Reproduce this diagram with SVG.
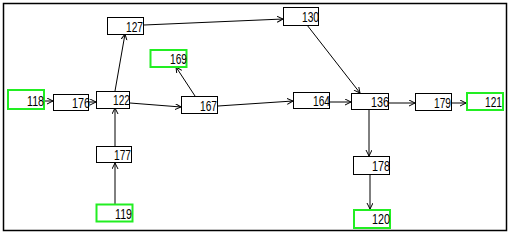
<svg xmlns="http://www.w3.org/2000/svg" width="513" height="235" viewBox="0 0 513 235">
<style>
.n rect{fill:#fff;stroke:#000;stroke-width:1}
.g rect{stroke:#22ee22;stroke-width:2}
.n text{font-family:"Liberation Sans",Arial,sans-serif;font-size:15px;text-anchor:end;fill:#000}
#edges line{stroke:#000;stroke-width:1;marker-end:url(#a)}
</style>
<defs>
<marker id="a" markerWidth="8" markerHeight="8" refX="6" refY="3" orient="auto" markerUnits="userSpaceOnUse">
<path d="M0,0 L6,3 L0,6" fill="none" stroke="#000" stroke-width="1"/>
</marker>
</defs>
<rect x="0" y="0" width="513" height="235" fill="#fff"/>
<rect x="3.5" y="3.5" width="503" height="227" fill="none" stroke="#000" stroke-width="1.5"/>
<g id="edges">
<line x1="44" y1="101" x2="53" y2="101"/>
<line x1="89" y1="102" x2="96" y2="102"/>
<line x1="115" y1="91" x2="125" y2="34"/>
<line x1="130" y1="103" x2="181" y2="107"/>
<line x1="195" y1="96" x2="176" y2="67"/>
<line x1="218" y1="106" x2="293" y2="101"/>
<line x1="330" y1="102" x2="351" y2="102"/>
<line x1="144" y1="25" x2="283" y2="19"/>
<line x1="307" y1="25" x2="360" y2="93"/>
<line x1="389" y1="103" x2="415" y2="103"/>
<line x1="452" y1="103" x2="466" y2="103"/>
<line x1="369" y1="109" x2="369" y2="156"/>
<line x1="370" y1="175" x2="370" y2="209"/>
<line x1="115" y1="146" x2="115" y2="108"/>
<line x1="115" y1="204" x2="115" y2="163"/>
</g>
<g id="n118" class="n g"><rect x="8" y="90" width="36" height="19"/><text x="44" y="106" textLength="17" lengthAdjust="spacingAndGlyphs">118</text></g>
<g id="n176" class="n"><rect x="53.5" y="94.5" width="35" height="16"/><text x="90" y="108" textLength="18" lengthAdjust="spacingAndGlyphs">176</text></g>
<g id="n122" class="n"><rect x="96.5" y="91.5" width="33" height="17"/><text x="130" y="105" textLength="17" lengthAdjust="spacingAndGlyphs">122</text></g>
<g id="n127" class="n"><rect x="107.5" y="17.5" width="36" height="17"/><text x="143" y="32" textLength="17" lengthAdjust="spacingAndGlyphs">127</text></g>
<g id="n169" class="n g"><rect x="150.5" y="50" width="36" height="17"/><text x="187" y="64" textLength="17" lengthAdjust="spacingAndGlyphs">169</text></g>
<g id="n167" class="n"><rect x="181.5" y="96.5" width="36" height="17"/><text x="217" y="111" textLength="17" lengthAdjust="spacingAndGlyphs">167</text></g>
<g id="n164" class="n"><rect x="293.5" y="92.5" width="36" height="16"/><text x="330" y="106" textLength="17" lengthAdjust="spacingAndGlyphs">164</text></g>
<g id="n130" class="n"><rect x="283.5" y="7.5" width="35" height="18"/><text x="319" y="22" textLength="17" lengthAdjust="spacingAndGlyphs">130</text></g>
<g id="n136" class="n"><rect x="351.5" y="93.5" width="37" height="16"/><text x="389" y="107" textLength="18" lengthAdjust="spacingAndGlyphs">136</text></g>
<g id="n179" class="n"><rect x="415.5" y="93.5" width="36" height="17"/><text x="451" y="108" textLength="17" lengthAdjust="spacingAndGlyphs">179</text></g>
<g id="n121" class="n g"><rect x="467" y="93" width="36" height="17"/><text x="502" y="107" textLength="17" lengthAdjust="spacingAndGlyphs">121</text></g>
<g id="n178" class="n"><rect x="353.5" y="156.5" width="36" height="18"/><text x="390" y="171" textLength="18" lengthAdjust="spacingAndGlyphs">178</text></g>
<g id="n120" class="n g"><rect x="354" y="210" width="36" height="18"/><text x="390" y="224" textLength="18" lengthAdjust="spacingAndGlyphs">120</text></g>
<g id="n177" class="n"><rect x="96.5" y="146.5" width="35" height="16"/><text x="131" y="160" textLength="17" lengthAdjust="spacingAndGlyphs">177</text></g>
<g id="n119" class="n g"><rect x="96.5" y="204.5" width="36" height="17"/><text x="132" y="219" textLength="17" lengthAdjust="spacingAndGlyphs">119</text></g>
</svg>
